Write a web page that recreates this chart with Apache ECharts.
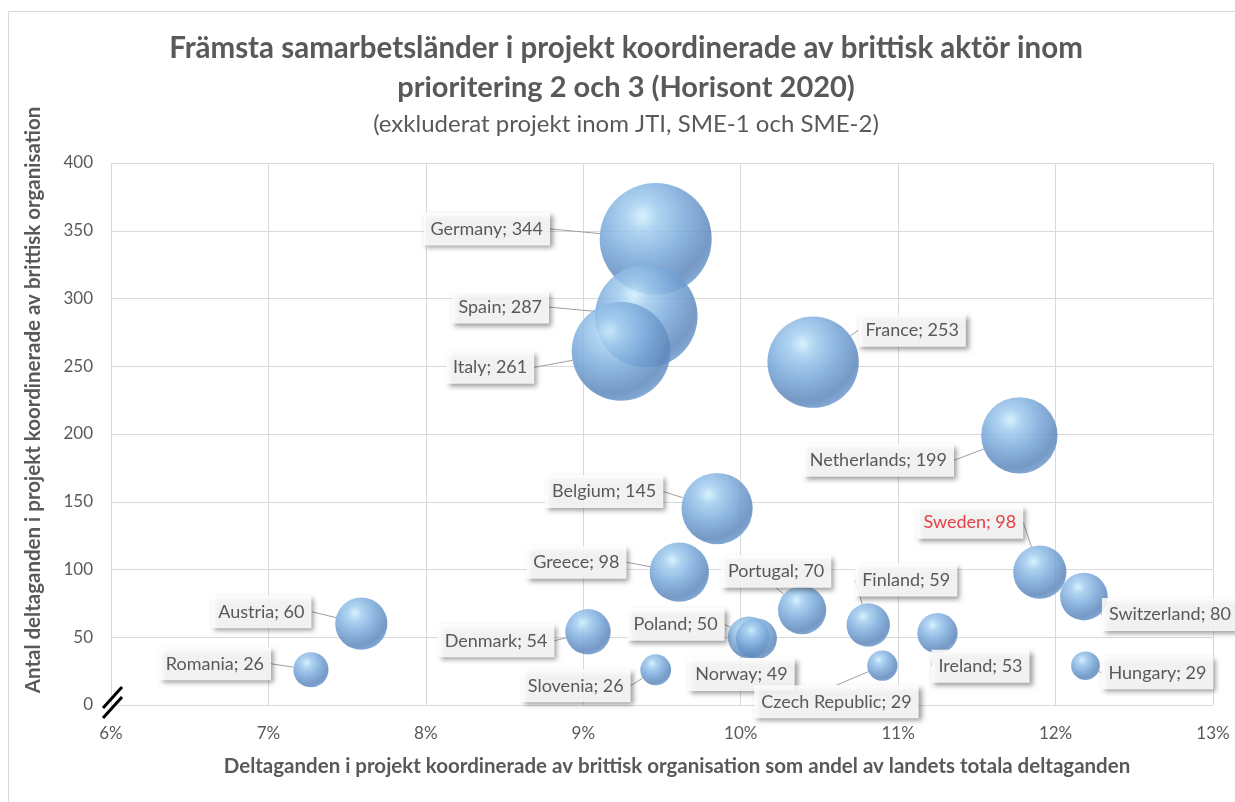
<!DOCTYPE html>
<html>
<head>
<meta charset="utf-8">
<script src="https://cdn.jsdelivr.net/npm/echarts@6/dist/echarts.min.js"></script>
<style>
  html, body { margin: 0; padding: 0; background: #fff; }
  #main { width: 1235px; height: 802px; }
</style>
</head>
<body>
<div id="main"></div>
<script>
// Länder (i ritordning, störst först)
const countries = ['Germany', 'Spain', 'Italy', 'France', 'Netherlands', 'Belgium', 'Greece', 'Sweden',
    'Austria', 'Portugal', 'Switzerland', 'Denmark', 'Finland', 'Poland', 'Norway', 'Ireland',
    'Romania', 'Slovenia', 'Czech Republic', 'Hungary'];

// Andel av landets totala deltaganden (%)
const shares = [9.46, 9.40, 9.24, 10.46, 11.77, 9.85, 9.61, 11.90,
    7.59, 10.39, 12.18, 9.03, 10.81, 10.05, 10.10, 11.25,
    7.27, 9.46, 10.90, 12.19];

// Antal deltaganden i projekt koordinerade av brittisk organisation
const counts = [344, 287, 261, 253, 199, 145, 98, 98,
    60, 70, 80, 54, 59, 50, 49, 53,
    26, 26, 29, 29];

// Landets totala deltaganden (bubbelstorlek)
const totals = [3636, 3053, 2825, 2419, 1691, 1472, 1020, 824,
    790, 674, 657, 598, 546, 497, 485, 471,
    359, 275, 266, 238];

// Axlar
const xTicks = [6, 7, 8, 9, 10, 11, 12, 13];
const yTicks = [0, 50, 100, 150, 200, 250, 300, 350, 400];

// Etikettplacering (förskjutning från bubblans mitt)
const labelOffset = {
    'Germany': [-169, -10],
    'Spain': [-146, -9],
    'Italy': [-131, 16],
    'France': [99, -32],
    'Netherlands': [-141, 25],
    'Belgium': [-113, -17],
    'Greece': [-103, -10],
    'Sweden': [-70, -50],
    'Austria': [-100, -12],
    'Portugal': [-26, -39],
    'Switzerland': [86, 18],
    'Denmark': [-92, 9],
    'Finland': [38, -45],
    'Poland': [-73, -13],
    'Norway': [-15, 36],
    'Ireland': [43, 33],
    'Romania': [-96, -6],
    'Slovenia': [-80, 16],
    'Czech Republic': [-46, 36],
    'Hungary': [72, 7]
};

const maxTotal = Math.max(...totals);
const maxDiameter = 112;

const textColor = '#595959';
const font = 'Lato, "Open Sans", sans-serif';

const bubbleColor = {
    type: 'radial', x: 0.38, y: 0.3, r: 0.78,
    colorStops: [
        { offset: 0, color: '#d0f0fc' },
        { offset: 0.18, color: '#a3cdef' },
        { offset: 0.5, color: '#79a8d9' },
        { offset: 0.8, color: '#5f89bb' },
        { offset: 0.9, color: '#6a95c8' },
        { offset: 1, color: '#86b3e2' }
    ]
};

const seriesData = countries.map((name, i) => {
    const item = {
        name: name,
        value: [shares[i], counts[i], totals[i]]
    };
    if (name === 'Sweden') {
        item.label = { color: '#e0242c' };
    }
    return item;
});

const chartDom = document.getElementById('main');
const myChart = echarts.init(chartDom);

// ledarlinje från etikettens kant in till bubblans mitt
function placeLabel(params) {
    const off = labelOffset[countries[params.dataIndex]] || [0, 0];
    const r = params.labelRect;
    const cx = params.rect.x + params.rect.width / 2;
    const cy = params.rect.y + params.rect.height / 2;
    const x0 = r.x + off[0], y0 = r.y + off[1];
    const sx = Math.min(Math.max(cx, x0), x0 + r.width);
    const sy = Math.min(Math.max(cy, y0), y0 + r.height);
    return {
        dx: off[0],
        dy: off[1],
        labelLinePoints: [[sx, sy], [sx, sy], [cx, cy]]
    };
}

const option = {
    backgroundColor: '#fff',
    animation: false,
    textStyle: { fontFamily: font },
    grid: { left: 111, right: 22, top: 163, bottom: 97 },
    xAxis: {
        type: 'value',
        min: xTicks[0],
        max: xTicks[xTicks.length - 1],
        interval: 1,
        axisLine: { show: false },
        axisTick: { show: false },
        axisLabel: {
            formatter: '{value}%',
            color: textColor,
            fontSize: 17,
            fontFamily: font,
            margin: 20
        },
        splitLine: { show: true, lineStyle: { color: '#d9d9d9', width: 1 } }
    },
    yAxis: {
        type: 'value',
        min: yTicks[0],
        max: yTicks[yTicks.length - 1],
        interval: 50,
        axisLine: { show: false },
        axisTick: { show: false },
        axisLabel: {
            color: textColor,
            fontSize: 17,
            fontFamily: font,
            margin: 18
        },
        splitLine: { show: true, lineStyle: { color: '#d9d9d9', width: 1 } }
    },
    series: [
        {
            type: 'scatter',
            data: seriesData,
            symbolSize: function (val) {
                return maxDiameter * Math.sqrt(val[2] / maxTotal);
            },
            itemStyle: {
                color: bubbleColor,
                opacity: 0.86
            },
            label: {
                show: true,
                position: 'inside',
                formatter: function (p) {
                    return p.name + '; ' + p.value[1];
                },
                color: '#404040',
                fontSize: 18,
                fontFamily: font,
                backgroundColor: '#fff',
                padding: [8, 7, 7, 7],
                shadowColor: 'rgba(0,0,0,0.45)',
                shadowBlur: 5,
                shadowOffsetX: 3,
                shadowOffsetY: 3
            },
            labelLine: {
                show: true,
                lineStyle: { color: '#a0a0a0', width: 1 }
            },
            labelLayout: placeLabel,
            emphasis: { disabled: true },
            z: 3
        }
    ],
    graphic: [
        // ram runt diagrammet
        {
            type: 'rect',
            shape: { x: 8.5, y: 11.5, width: 1240, height: 800 },
            style: { fill: 'none', stroke: '#d9d9d9', lineWidth: 1 },
            silent: true
        },
        {
            type: 'text',
            x: 626, y: 48,
            style: {
                text: 'Främsta samarbetsländer i projekt koordinerade av brittisk aktör inom',
                fill: textColor, font: 'bold 29.5px ' + font,
                textAlign: 'center', textVerticalAlign: 'middle'
            }
        },
        {
            type: 'text',
            x: 626, y: 88,
            style: {
                text: 'prioritering 2 och 3 (Horisont 2020)',
                fill: textColor, font: 'bold 29px ' + font,
                textAlign: 'center', textVerticalAlign: 'middle'
            }
        },
        {
            type: 'text',
            x: 626, y: 124,
            style: {
                text: '(exkluderat projekt inom JTI, SME-1 och SME-2)',
                fill: textColor, font: '24px ' + font,
                textAlign: 'center', textVerticalAlign: 'middle'
            }
        },
        {
            type: 'text',
            x: 33, y: 400,
            rotation: Math.PI / 2,
            style: {
                text: 'Antal deltaganden i projekt koordinerade av brittisk organisation',
                fill: textColor, font: 'bold 20.5px ' + font,
                textAlign: 'center', textVerticalAlign: 'middle'
            }
        },
        {
            type: 'text',
            x: 677, y: 766,
            style: {
                text: 'Deltaganden i projekt koordinerade av brittisk organisation som andel av landets totala deltaganden',
                fill: textColor, font: 'bold 20.5px ' + font,
                textAlign: 'center', textVerticalAlign: 'middle'
            }
        },
        // axelbrott
        {
            type: 'line',
            shape: { x1: 103, y1: 708, x2: 122, y2: 687 },
            style: { stroke: '#000', lineWidth: 3 },
            z: 10
        },
        {
            type: 'line',
            shape: { x1: 103, y1: 718, x2: 122, y2: 697 },
            style: { stroke: '#000', lineWidth: 3 },
            z: 10
        }
    ]
};

myChart.setOption(option);
</script>
</body>
</html>
